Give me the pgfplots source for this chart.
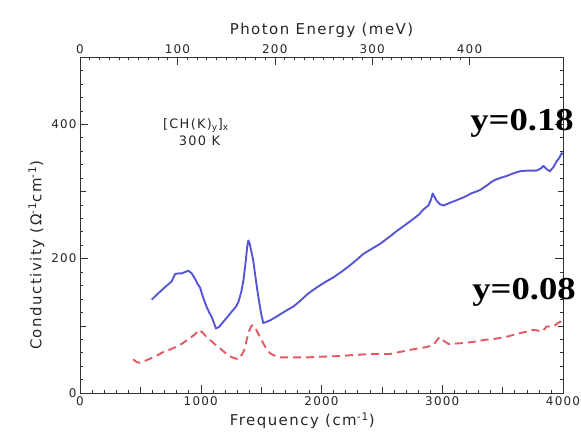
\documentclass[border=0pt]{standalone}
\usepackage{pgfplots}
\pgfplotsset{compat=1.18}
\usepackage{fontspec}
\setmainfont{DejaVu Sans}
\newfontfamily\lbl{DejaVu Sans}[LetterSpace=10]
\newfontfamily\annfont{Liberation Serif}[BoldFont={Liberation Serif Bold}]

\definecolor{bluecurve}{RGB}{85,85,215}
\definecolor{redcurve}{RGB}{228,88,98}

\begin{document}
\begin{tikzpicture}
\path[use as bounding box] (0bp,0bp) rectangle (581bp,437bp);

% conductivity versus wavenumber
\begin{axis}[
  at={(80bp,44bp)}, anchor=south west,
  width=483bp, height=336bp, scale only axis,
  xmin=0, xmax=4000, ymin=0, ymax=500,
  xtick={0,1000,...,4000},
  minor xtick={100,200,...,3900},
  extra x ticks={500,1500,2500,3500},
  extra x tick labels={},
  ytick={0,200,400},
  minor ytick={20,40,...,480},
  extra y ticks={100,300},
  extra y tick labels={},
  extra tick style={major tick length=5.5bp},
  xtick pos=bottom,
  ytick pos=both, yticklabel pos=left,
  major tick length=8bp, minor tick length=3bp,
  tick style={black!80, line width=0.5pt},
  axis line style={black!80, line width=0.6pt},
  scaled ticks=false,
  /pgf/number format/1000 sep={},
  /pgf/number format/assume math mode=true,
  tick label style={font=\lbl\fontsize{12}{14}\selectfont, black!85},
  xlabel={Frequency (cm\textsuperscript{-1})},
  ylabel={Conductivity (Ω\textsuperscript{-1}cm\textsuperscript{-1})},
  label style={font=\lbl\fontsize{15}{17}\selectfont, black!85},
  every axis x label/.append style={at={(ticklabel cs:0.46)}},
  every axis y label/.append style={at={(ticklabel cs:0.41)}},
]
% y = 0.18
\addplot[bluecurve, line width=1.9pt, line join=round] coordinates {
(594,139) (640,147) (676,153) (720,160) (759,166) (787,177) (815,178)
(842,178) (870,180) (897,182) (925,178) (952,170) (975,162) (994,157)
(1020,142) (1049,128) (1070,120) (1091,113) (1110,104) (1126,96)
(1150,98) (1187,106) (1220,113) (1256,121) (1290,128) (1311,135)
(1335,150) (1353,167) (1372,195) (1385,218) (1394,227) (1405,222)
(1420,210) (1435,197) (1455,170) (1477,143) (1500,118) (1518,104)
(1545,106) (1574,108) (1640,115) (1711,123) (1770,129) (1822,137)
(1890,148) (1960,157) (2030,165) (2098,172) (2170,181) (2236,190)
(2290,198) (2346,207) (2420,215) (2485,222) (2560,232) (2623,241)
(2700,251) (2760,259) (2810,266) (2843,273) (2885,279) (2905,287)
(2921,297) (2935,292) (2954,286) (2980,281) (3009,279) (3064,283)
(3120,287) (3175,291) (3240,297) (3313,302) (3370,309) (3423,316)
(3480,320) (3534,323) (3590,327) (3644,330) (3710,331) (3782,331)
(3815,334) (3837,338) (3865,333) (3892,330) (3920,336) (3948,345)
(3970,350) (3989,357) (4000,355)
};
% y = 0.08
\addplot[redcurve, line width=1.9pt, dash pattern=on 8bp off 5bp] coordinates {
(440,50) (470,46) (497,45) (540,48) (580,51) (640,56) (690,61) (750,65)
(801,69) (850,74) (897,80) (950,87) (988,94) (1020,89) (1049,83)
(1090,77) (1132,70) (1175,64) (1215,58) (1260,53) (1311,50) (1340,57)
(1366,66) (1380,79) (1400,92) (1420,100) (1435,101) (1460,94) (1491,83)
(1530,70) (1574,59) (1620,55) (1656,53) (1760,53) (1877,53) (2000,54)
(2153,55) (2300,57) (2429,58) (2567,58) (2700,63) (2788,66) (2860,68)
(2926,71) (2950,77) (2976,83) (3010,78) (3050,73) (3150,74) (3258,76)
(3350,79) (3451,81) (3540,84) (3617,88) (3690,91) (3754,94) (3790,93)
(3823,91) (3845,95) (3865,99) (3900,99) (3920,99) (3950,103) (3975,106)
(3995,104)
};
\node[font=\lbl\fontsize{13}{15}\selectfont, black!85] at (axis cs:960,398)
  {[CH(K)\textsubscript{y}]\textsubscript{x}};
\node[font=\lbl\fontsize{13}{15}\selectfont, black!85] at (axis cs:990,376)
  {300 K};
\end{axis}

% photon energy scale, 1 meV = 8.0655 cm^-1
\begin{axis}[
  at={(80bp,44bp)}, anchor=south west,
  width=483bp, height=336bp, scale only axis,
  xmin=0, xmax=495.94, ymin=0, ymax=500,
  axis x line*=top, axis y line=none,
  xtick={0,100,...,400},
  minor x tick num=9,
  major tick length=8bp, minor tick length=3bp,
  tick style={black!80, line width=0.5pt},
  axis line style={black!80, line width=0.6pt},
  /pgf/number format/assume math mode=true,
  tick label style={font=\lbl\fontsize{12}{14}\selectfont, black!85},
  xlabel={Photon Energy (meV)},
  label style={font=\lbl\fontsize{15}{17}\selectfont, black!85},
]
\end{axis}

\node[anchor=base, font=\annfont\bfseries\fontsize{32}{34}\selectfont]
  at (522bp,306bp) {\scalebox{1.15}[1]{y=0.18}};
\node[anchor=base, font=\annfont\bfseries\fontsize{32}{34}\selectfont]
  at (524bp,137bp) {\scalebox{1.15}[1]{y=0.08}};
\end{tikzpicture}
\end{document}
